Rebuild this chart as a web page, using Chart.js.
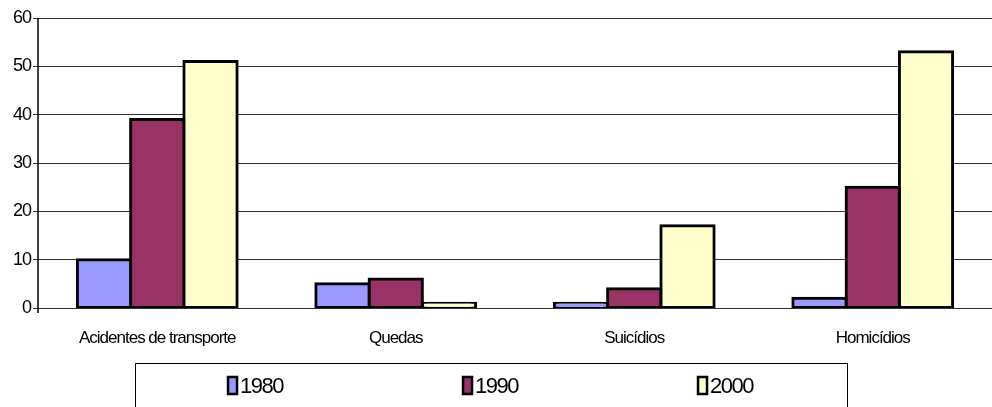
<!DOCTYPE html>
<html>
<head>
<meta charset="utf-8">
<script src="https://cdn.jsdelivr.net/npm/chart.js@4/dist/chart.umd.min.js"></script>
<style>
  html, body { margin: 0; padding: 0; background: #fff; }
  #wrap { width: 992px; height: 407px; position: relative; }
</style>
</head>
<body>
<div id="wrap"><canvas id="c"></canvas></div>
<script>
const categories = ['Acidentes de transporte', 'Quedas', 'Suicídios', 'Homicídios'];
const seriesLabels = ['1980', '1990', '2000'];
const values1980 = [10, 5, 1, 2];
const values1990 = [39, 6, 4, 25];
const values2000 = [51, 1, 17, 53];
const yTicks = [0, 10, 20, 30, 40, 50, 60];
const colors = ['#9999FF', '#993366', '#FFFFCC'];

const FONT = 'Arial, "Liberation Sans", sans-serif';

const spacingPlugin = {
  id: 'spacing',
  beforeLayout(chart) { chart.ctx.letterSpacing = '-1px'; },
  beforeDraw(chart) { chart.ctx.letterSpacing = '-1px'; }
};

const legendBoxPlugin = {
  id: 'legendBox',
  afterDraw(chart) {
    const ctx = chart.ctx;
    ctx.save();
    ctx.letterSpacing = '-1.5px';
    ctx.strokeStyle = '#000';
    ctx.lineWidth = 1;
    ctx.strokeRect(135.5, 363.5, 712, 60);
    const cx = 491;
    const step = 235;
    ctx.font = '22px ' + FONT;
    ctx.textBaseline = 'middle';
    ctx.fillStyle = '#000';
    chart.data.datasets.forEach((ds, i) => {
      const tw = ctx.measureText(ds.label).width;
      const w = 10 + 3 + tw;
      const x0 = cx + (i - 1) * step - w / 2;
      const yMid = 386;
      ctx.fillStyle = ds.backgroundColor;
      ctx.fillRect(x0, yMid - 9, 9, 17);
      ctx.lineWidth = 2.5;
      ctx.strokeStyle = '#000';
      ctx.strokeRect(x0, yMid - 9, 9, 17);
      ctx.fillStyle = '#000';
      ctx.fillText(ds.label, x0 + 12, yMid + 1);
    });
    ctx.restore();
  }
};

const yAxisLine = {
  id: 'yAxisLine',
  afterDatasetsDraw(chart) {
    const ctx = chart.ctx;
    const a = chart.chartArea;
    ctx.save();
    ctx.strokeStyle = '#000';
    ctx.lineWidth = 1.5;
    ctx.beginPath();
    ctx.moveTo(a.left, a.top);
    ctx.lineTo(a.left, a.bottom + 5);
    ctx.stroke();
    ctx.restore();
  }
};

new Chart(document.getElementById('c'), {
  type: 'bar',
  data: {
    labels: categories,
    datasets: [
      { label: seriesLabels[0], data: values1980, backgroundColor: colors[0] },
      { label: seriesLabels[1], data: values1990, backgroundColor: colors[1] },
      { label: seriesLabels[2], data: values2000, backgroundColor: colors[2] }
    ].map(d => Object.assign(d, { borderColor: '#000', borderWidth: 3, borderSkipped: false, inflateAmount: 1.5 }))
  },
  options: {
    responsive: true,
    maintainAspectRatio: false,
    animation: false,
    devicePixelRatio: 1,
    datasets: { bar: { categoryPercentage: 0.67, barPercentage: 1.0 } },
    layout: { padding: { top: 18, right: 0, bottom: 44, left: 0 } },
    plugins: { legend: { display: false }, tooltip: { enabled: false } },
    scales: {
      x: {
        grid: { display: false, drawTicks: false },
        border: { display: false },
        ticks: { color: '#000', font: { family: FONT, size: 17 }, padding: 20, maxRotation: 0, autoSkip: false },
        afterFit(s) { s.height = 55; }
      },
      y: {
        min: 0, max: 60,
        afterBuildTicks(s) { s.ticks = yTicks.map(v => ({ value: v })); },
        grid: { color: '#333', lineWidth: 1, tickLength: 5, drawTicks: true, tickColor: '#333' },
        border: { display: false },
        ticks: { color: '#000', font: { family: FONT, size: 18 }, padding: 2 },
        afterFit(s) { s.width = 38; }
      }
    }
  },
  plugins: [spacingPlugin, yAxisLine, legendBoxPlugin]
});
</script>
</body>
</html>
